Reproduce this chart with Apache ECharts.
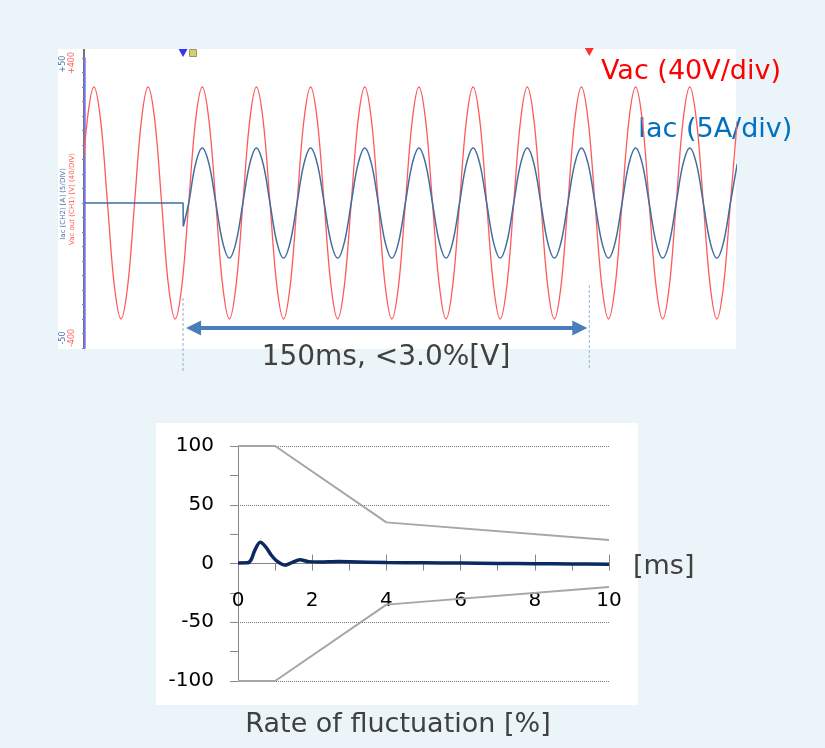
<!DOCTYPE html>
<html><head><meta charset="utf-8">
<script src="https://cdn.jsdelivr.net/npm/echarts@6/dist/echarts.min.js"></script>
<style>
html,body{margin:0;padding:0;background:#ebf4f8;}
#wrap{position:relative;width:825px;height:748px;}
.panel{position:absolute;background:#ffffff;}
#c{position:absolute;left:0;top:0;width:825px;height:748px;}
</style>
</head><body><div id="wrap">
<div class="panel" style="left:58px;top:49px;width:678px;height:300px;"></div>
<div class="panel" style="left:156px;top:423px;width:482px;height:282px;"></div>
<div class="panel" style="left:83px;top:49px;width:2px;height:300px;background:#767676;"></div>
<div id="c"></div></div>
<script>
// ---- Top oscilloscope waveform (time in ms, sampled every 2.5 ms) ----
const waveStartMs = -1.7;
const waveStepMs = 2.5;
// Vac out (CH1) [V]
const vacValues = [
  0, 226, 320, 226, 0, -226, -320, -226,
  0, 226, 320, 226, 0, -226, -320, -226,
  0, 226, 320, 226, 0, -226, -320, -226,
  0, 226, 320, 226, 0, -226, -320, -226,
  0, 226, 320, 226, 0, -226, -320, -226,
  0, 226, 320, 226, 0, -226, -320, -226,
  0, 226, 320, 226, 0, -226, -320, -226,
  0, 226, 320, 226, 0, -226, -320, -226,
  0, 226, 320, 226, 0, -226, -320, -226,
  0, 226, 320, 226, 0, -226, -320, -226,
  0, 226, 320, 226, 0, -226, -320, -226,
  0, 226, 320, 226, 0, -226, -320, -226,
  0, 226
];
// Iac (CH2) [A]: zero before trigger, step at trigger
const iacTransient = [[0, 0], [36.2, 0], [36.3, -8]];
const iacStartMs = 38.3;
const iacValues = [
  0, 13.4, 19, 13.4, 0, -13.4, -19, -13.4,
  0, 13.4, 19, 13.4, 0, -13.4, -19, -13.4,
  0, 13.4, 19, 13.4, 0, -13.4, -19, -13.4,
  0, 13.4, 19, 13.4, 0, -13.4, -19, -13.4,
  0, 13.4, 19, 13.4, 0, -13.4, -19, -13.4,
  0, 13.4, 19, 13.4, 0, -13.4, -19, -13.4,
  0, 13.4, 19, 13.4, 0, -13.4, -19, -13.4,
  0, 13.4, 19, 13.4, 0, -13.4, -19, -13.4,
  0, 13.4, 19, 13.4, 0, -13.4, -19, -13.4,
  0, 13.4, 19, 13.4, 0, -13.4, -19, -13.4,
  0, 13.4
];
const triggerMs = 36.2;
const holdEndMs = 186.2;

// ---- Bottom chart: rate of fluctuation [%] vs time [ms] ----
const rateX = [0, 0.25, 0.35, 0.45, 0.6, 0.75, 0.9, 1.05, 1.27, 1.45, 1.67, 1.9, 2.2, 2.7, 3.0, 4, 5, 6, 7, 8, 9, 10];
const rateY = [0.5, 0.6, 3, 11, 18, 14, 7, 2, -1.4, 0.8, 3.2, 1.6, 1.2, 1.6, 1.5, 0.8, 0.6, 0.4, 0.1, -0.2, -0.4, -0.6];
const limitX = [0, 1, 4, 10];
const upperLimit = [100, 100, 35, 20];
const lowerLimit = [-100, -100, -35, -20];

const FONT = 'DejaVu Sans';
const vacData = vacValues.map((v, i) => [waveStartMs + i * waveStepMs, v]);
const iacData = [iacTransient[iacTransient.length - 1]].concat(iacValues.map((v, i) => [iacStartMs + i * waveStepMs, v]));
const zip = (xs, ys) => xs.map((x, i) => [x, ys[i]]);

const BOT_H = 235;
const chart = echarts.init(document.getElementById('c'), null, {renderer: 'canvas'});
chart.setOption({
  backgroundColor: 'transparent',
  animation: false,
  grid: [
    {left: 238, top: 446, width: 371, height: BOT_H},
    {left: 85, top: 58, width: 650, height: 290}
  ],
  xAxis: [
    {type: 'value', gridIndex: 0, min: 0, max: 10, interval: 2, position: 'bottom', offset: -BOT_H / 2,
      axisLine: {onZero: false, lineStyle: {color: '#868686', width: 1}},
      axisTick: {inside: true, length: 9, lineStyle: {color: '#868686'}},
      axisLabel: {margin: 27, color: '#000', fontSize: 20, fontFamily: FONT},
      splitLine: {show: false}},
    {type: 'value', gridIndex: 0, min: 0, max: 10, interval: 1, position: 'bottom', offset: -BOT_H / 2,
      axisLine: {onZero: false, lineStyle: {color: '#868686', width: 1}},
      axisTick: {inside: false, length: 7, lineStyle: {color: '#868686'}},
      axisLabel: {show: false}, splitLine: {show: false}},
    {type: 'value', gridIndex: 1, min: 0, max: 240, show: false}
  ],
  yAxis: [
    {type: 'value', gridIndex: 0, min: -100, max: 100, interval: 50,
      axisLine: {show: true, onZero: false, lineStyle: {color: '#868686'}},
      axisTick: {show: true, length: 8, lineStyle: {color: '#868686'}},
      minorTick: {show: true, splitNumber: 2, length: 8, lineStyle: {color: '#868686'}},
      axisLabel: {margin: 24, color: '#000', fontSize: 20, fontFamily: FONT},
      splitLine: {show: true, lineStyle: {type: 'dotted', color: '#7a7a7a', width: 1}}},
    {type: 'value', gridIndex: 1, min: -400, max: 400, interval: 40, offset: 5,
      axisLine: {show: true, lineStyle: {color: '#7878ff', width: 1.5}},
      axisTick: {show: true, length: 3, lineStyle: {color: '#7878ff'}},
      axisLabel: {show: false}, splitLine: {show: false}},
    {type: 'value', gridIndex: 1, min: -50, max: 50, show: false, position: 'left'}
  ],
  series: [
    {type: 'line', xAxisIndex: 0, yAxisIndex: 0, data: zip(limitX, upperLimit), symbol: 'none',
      lineStyle: {color: '#a6a6a6', width: 2}, silent: true},
    {type: 'line', xAxisIndex: 0, yAxisIndex: 0, data: zip(limitX, lowerLimit), symbol: 'none',
      lineStyle: {color: '#a6a6a6', width: 2}, silent: true},
    {type: 'line', xAxisIndex: 0, yAxisIndex: 0, data: zip(rateX, rateY), symbol: 'none', smooth: 0.3,
      lineStyle: {color: '#0c2a62', width: 3.5}, silent: true, z: 5},
    {type: 'line', xAxisIndex: 2, yAxisIndex: 1, data: vacData, symbol: 'none', smooth: 0.35,
      lineStyle: {color: '#ff5a5a', width: 1.3}, silent: true},
    {type: 'line', xAxisIndex: 2, yAxisIndex: 2, data: iacTransient, symbol: 'none',
      lineStyle: {color: '#3f6f9f', width: 1.5}, silent: true},
    {type: 'line', xAxisIndex: 2, yAxisIndex: 2, data: iacData, symbol: 'none', smooth: 0.35,
      lineStyle: {color: '#3f6f9f', width: 1.5}, silent: true},
    {type: 'scatter', xAxisIndex: 2, yAxisIndex: 1, data: [[triggerMs, 400]], symbol: 'triangle', symbolRotate: 180,
      symbolSize: [9, 8], symbolOffset: [0, -5], itemStyle: {color: '#0000ff'}, clip: false, silent: true},
    {type: 'scatter', xAxisIndex: 2, yAxisIndex: 1, data: [[triggerMs, 400]], symbol: 'rect',
      symbolSize: 7, symbolOffset: [10, -5], itemStyle: {color: '#c8c25a', borderColor: '#8a8540', borderWidth: 1}, clip: false, silent: true},
    {type: 'scatter', xAxisIndex: 2, yAxisIndex: 1, data: [[holdEndMs, 400]], symbol: 'triangle', symbolRotate: 180,
      symbolSize: [9, 8], symbolOffset: [0, -6], itemStyle: {color: '#ff0000'}, clip: false, silent: true}
  ]
});

const pA = chart.convertToPixel({xAxisIndex: 2, yAxisIndex: 1}, [triggerMs, 0]);
const pB = chart.convertToPixel({xAxisIndex: 2, yAxisIndex: 1}, [holdEndMs, 0]);
const ay = 328, tipL = pA[0] + 3, tipR = pB[0] - 2, head = 15;
const arrowColor = '#4a7ebb';
chart.setOption({
  graphic: [
    {type: 'line', shape: {x1: pA[0], y1: 298, x2: pA[0], y2: 372}, style: {stroke: '#93b3d6', lineWidth: 1, lineDash: [3, 2]}},
    {type: 'line', shape: {x1: pB[0], y1: 285, x2: pB[0], y2: 368}, style: {stroke: '#93b3d6', lineWidth: 1, lineDash: [3, 2]}},
    {type: 'line', shape: {x1: tipL + head - 2, y1: ay, x2: tipR - head + 2, y2: ay}, style: {stroke: arrowColor, lineWidth: 4}},
    {type: 'polygon', shape: {points: [[tipL, ay], [tipL + head, ay - 7.5], [tipL + head, ay + 7.5]]}, style: {fill: arrowColor}},
    {type: 'polygon', shape: {points: [[tipR, ay], [tipR - head, ay - 7.5], [tipR - head, ay + 7.5]]}, style: {fill: arrowColor}},
    {type: 'text', x: 386, y: 358, style: {text: '150ms, <3.0%[V]', font: '28px "DejaVu Sans"', fill: '#404040', align: 'center', verticalAlign: 'middle'}},
    {type: 'text', x: 601, y: 72, style: {text: 'Vac (40V/div)', font: '27px "DejaVu Sans"', fill: '#ff0000', align: 'left', verticalAlign: 'middle'}},
    {type: 'text', x: 638, y: 130, style: {text: 'Iac (5A/div)', font: '27px "DejaVu Sans"', fill: '#0070c0', align: 'left', verticalAlign: 'middle'}},
    {type: 'text', x: 633, y: 567, style: {text: '[ms]', font: '27px "DejaVu Sans"', fill: '#404040', align: 'left', verticalAlign: 'middle'}},
    {type: 'text', x: 398, y: 725, style: {text: 'Rate of fluctuation [%]', font: '27px "DejaVu Sans"', fill: '#404040', align: 'center', verticalAlign: 'middle'}},
    {type: 'text', x: 63, y: 64, rotation: Math.PI / 2, style: {text: '+50', font: '8px "DejaVu Sans"', fill: '#4a74a8', align: 'center', verticalAlign: 'middle'}},
    {type: 'text', x: 72, y: 63, rotation: Math.PI / 2, style: {text: '+400', font: '8px "DejaVu Sans"', fill: '#ff5a5a', align: 'center', verticalAlign: 'middle'}},
    {type: 'text', x: 63, y: 338, rotation: Math.PI / 2, style: {text: '-50', font: '8px "DejaVu Sans"', fill: '#4a74a8', align: 'center', verticalAlign: 'middle'}},
    {type: 'text', x: 72, y: 338, rotation: Math.PI / 2, style: {text: '-400', font: '8px "DejaVu Sans"', fill: '#ff5a5a', align: 'center', verticalAlign: 'middle'}},
    {type: 'text', x: 63, y: 204, rotation: Math.PI / 2, style: {text: 'Iac (CH2) [A] (5/DIV)', font: '7px "DejaVu Sans"', fill: '#4a74a8', align: 'center', verticalAlign: 'middle'}},
    {type: 'text', x: 72, y: 199, rotation: Math.PI / 2, style: {text: 'Vac out (CH1) [V] (40/DIV)', font: '7px "DejaVu Sans"', fill: '#ff5a5a', align: 'center', verticalAlign: 'middle'}}
  ]
});
</script>
</body></html>
